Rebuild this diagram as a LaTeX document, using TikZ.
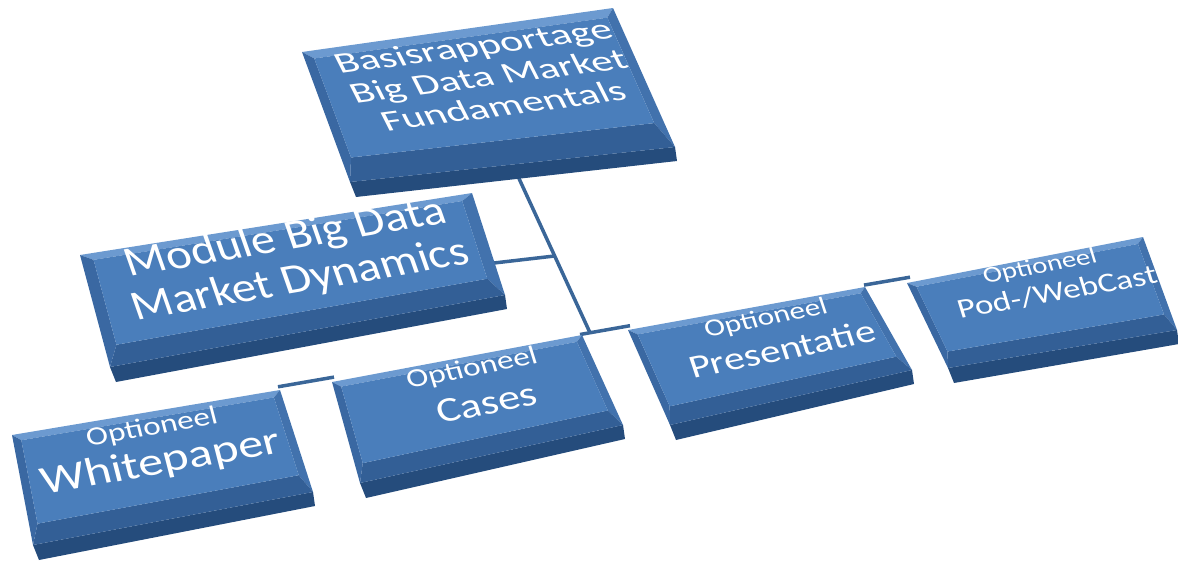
\documentclass[tikz,border=0pt]{standalone}
\usepackage{fontspec}
\setmainfont{Carlito}
\usetikzlibrary{calc}

\definecolor{boxface}{HTML}{4A7EBB}
\definecolor{boxtop}{HTML}{6C9AD0}
\definecolor{boxleft}{HTML}{3A68A2}
\definecolor{boxright}{HTML}{4272AD}
\definecolor{boxbottom}{HTML}{335F96}
\definecolor{boxside}{HTML}{254C7C}
\definecolor{linkcol}{HTML}{3A6698}

% bevelled slab: name, top left, top right, bottom right, bottom left
\newcommand{\slab}[5]{%
\coordinate (#1-a) at #2;
\coordinate (#1-b) at #3;
\coordinate (#1-c) at #4;
\coordinate (#1-d) at #5;
\coordinate (#1-p) at ($(#1-a)!0.03!(#1-b)$);
\coordinate (#1-q) at ($(#1-a)!0.97!(#1-b)$);
\coordinate (#1-r) at ($(#1-d)!0.03!(#1-c)$);
\coordinate (#1-s) at ($(#1-d)!0.97!(#1-c)$);
\coordinate (#1-ia) at ($(#1-p)!0.06!(#1-r)$);
\coordinate (#1-ib) at ($(#1-q)!0.06!(#1-s)$);
\coordinate (#1-ic) at ($(#1-q)!0.82!(#1-s)$);
\coordinate (#1-id) at ($(#1-p)!0.82!(#1-r)$);
\fill[boxside] (#1-d) -- (#1-c) -- ($(#1-c)+(2,14)$) -- ($(#1-d)+(6,15)$) -- cycle;
\fill[boxtop] (#1-a) -- (#1-b) -- (#1-ib) -- (#1-ia) -- cycle;
\fill[boxright] (#1-b) -- (#1-c) -- (#1-ic) -- (#1-ib) -- cycle;
\fill[boxbottom] (#1-c) -- (#1-d) -- (#1-id) -- (#1-ic) -- cycle;
\fill[boxleft] (#1-d) -- (#1-a) -- (#1-ia) -- (#1-id) -- cycle;
\fill[boxface] (#1-ia) -- (#1-ib) -- (#1-ic) -- (#1-id) -- cycle;
}

\begin{document}
\begin{tikzpicture}[x=1pt,y=-1pt,
link/.style={draw=linkcol,line width=3.5pt},
boxtext/.style={inner sep=0pt,align=center,text=white}]
\useasboundingbox (0,0) rectangle (1178,562);

\coordinate (top-foot) at (516,172);
\coordinate (mod-hook) at (494,263);
\coordinate (jn-up) at (554.5,256);
\coordinate (jn-low) at (590,332.7);
\coordinate (wp-hook) at (278,386.8);
\coordinate (cs-hookl) at (334,377.1);
\coordinate (cs-hookr) at (580,334.5);
\coordinate (pr-hookl) at (630,325.7);
\coordinate (pr-hookr) at (864,285.1);
\coordinate (pd-hook) at (910,277.2);

\draw[link] (top-foot) -- (jn-low);
\draw[link] (mod-hook) -- (jn-up);
\draw[link] (wp-hook) -- (cs-hookl);
\draw[link] (cs-hookr) -- (pr-hookl);
\draw[link] (pr-hookr) -- (pd-hook);

\slab{top}{(302,52)}{(613,8)}{(675,147)}{(350,182)}
\slab{mod}{(80,255)}{(472,193)}{(505,295)}{(110,367)}
\slab{wp}{(12,435)}{(280,390)}{(313,492)}{(33,545)}
\slab{cs}{(332,382)}{(582,335)}{(623,425)}{(360,483)}
\slab{pr}{(628,330)}{(865,287)}{(912,370)}{(670,425)}
\slab{pd}{(907,283)}{(1143,237)}{(1177,330)}{(948,368)}

\node[boxtext,rotate=7.5,xslant=-0.35,yscale=0.7,font=\fontsize{42.5}{45}\selectfont] (top-txt) at (488,76) {Basisrapportage\\Big Data Market\\Fundamentals};
\node[boxtext,rotate=9.7,xslant=-0.17,yscale=0.88,font=\fontsize{48}{50}\selectfont] (mod-txt) at (293,260) {Module Big Data\\Market Dynamics};

\node[boxtext,rotate=10.1,xslant=-0.075,yscale=0.8,font=\fontsize{33}{33}\selectfont] (wp-opt) at (152,428) {Optioneel};
\node[boxtext,rotate=10.1,xslant=-0.075,yscale=0.8,font=\fontsize{50}{50}\selectfont] (wp-txt) at (161,463) {Whitepaper};
\node[boxtext,rotate=11.5,xslant=-0.1,yscale=0.8,font=\fontsize{33}{33}\selectfont] (cs-opt) at (472,369) {Optioneel};
\node[boxtext,rotate=11.5,xslant=-0.1,yscale=0.8,font=\fontsize{44}{44}\selectfont] (cs-txt) at (487,403) {Cases};
\node[boxtext,rotate=11.5,xslant=-0.12,yscale=0.8,font=\fontsize{31}{31}\selectfont] (pr-opt) at (766,319) {Optioneel};
\node[boxtext,rotate=11.5,xslant=-0.12,yscale=0.8,font=\fontsize{41}{41}\selectfont] (pr-txt) at (782,349) {Presentatie};
\node[boxtext,rotate=10.2,xslant=-0.12,yscale=0.8,font=\fontsize{28.6}{29}\selectfont] (pd-opt) at (1040,267) {Optioneel};
\node[boxtext,rotate=10.2,xslant=-0.12,yscale=0.8,font=\fontsize{34.5}{35}\selectfont] (pd-txt) at (1057,292) {Pod-/WebCast};
\end{tikzpicture}
\end{document}
